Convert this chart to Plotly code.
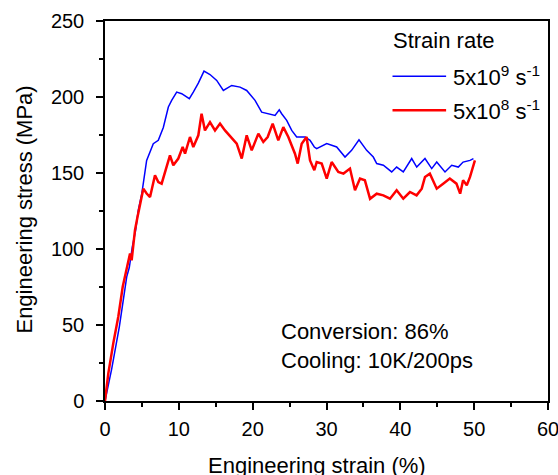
import plotly.graph_objects as go

# Engineering stress-strain curves at two strain rates
strain_fast = [0, 0.9, 1.94, 2.71, 2.94, 3.29, 3.70, 4.15, 4.51, 4.97, 5.3, 5.64, 6.54, 7.22,
               7.9, 8.58, 9.03, 9.71, 10.39, 11.42, 11.96, 12.64, 13.41, 14.22, 15.13, 16.03,
               17.16, 18.29, 19.19, 20.32, 21.22, 22.12, 23.03, 23.6, 23.93, 24.61, 25.29, 25.96,
               27.09, 27.77, 28.35, 28.67, 30.03, 31.38, 32.51, 33.4, 34.4, 35.44, 36.34, 36.8,
               37.7, 38.83, 39.5, 40.4, 41.54, 42.22, 43.34, 44.25, 44.93, 46.05, 46.96, 47.85,
               48.5, 49.44, 49.9]
stress_fast = [0, 21, 48.8, 75.1, 81.7, 87.8, 101.4, 112.4, 125.5, 136, 148, 158.3, 169.3, 171.5,
               180, 193.4, 197.8, 203.2, 202.2, 198.9, 203.2, 209.1, 217.0, 214.8, 210.9, 204.3,
               207.6, 206.5, 204.3, 197.8, 190, 189, 187.9, 191.6, 189, 184.6, 178, 173.7,
               173.7, 171.5, 167.1, 166.0, 169.3, 167.1, 160.5, 164.9, 171.9, 164.9, 160.5, 156.2,
               155.1, 150.7, 153.9, 150.7, 159.5, 153.9, 159.5, 152.9, 157.2, 150.7, 155.1, 153.9,
               157.2, 158.3, 159.5]

strain_slow = [0, 0.45, 1.12, 1.8, 2.4, 2.94, 3.39, 3.61, 4.06, 4.4, 4.74, 5.19, 5.64, 6.1,
               6.77, 7.22, 7.67, 8.13, 8.8, 9.25, 9.93, 10.52, 10.84, 11.51, 11.96, 12.64, 13.08,
               13.54, 14.22, 14.9, 15.58, 16.25, 16.84, 17.16, 17.84, 18.52, 19.19, 19.87, 20.77,
               21.44, 22.03, 22.71, 23.47, 24.15, 24.83, 25.73, 26.1, 26.64, 27.3, 27.77, 28.35,
               28.67, 29.35, 30.03, 30.7, 31.6, 32.3, 33.18, 33.86, 34.54, 35.2, 35.9, 36.8, 37.7,
               38.6, 39.5, 40.4, 41.3, 42.2, 42.9, 43.34, 44.0, 44.93, 45.8, 46.7, 47.6, 48.1,
               48.5, 49.0, 49.44, 49.9, 50.1]
stress_slow = [0, 18.2, 37.9, 55.4, 75.1, 86.1, 97, 92.6, 112.4, 121, 130, 139.7, 136.5, 134.2,
               148.5, 144, 143, 150.7, 161.6, 155.1, 159.5, 167.1, 162.7, 173.7, 167.1, 174.8, 189,
               178, 183.5, 178, 182.5, 178, 174.8, 173.7, 169.3, 159.5, 174.8, 164.9, 175.9,
               170.4, 173.7, 182.5, 171.5, 180.2, 173.7, 162.7, 156.2, 169.3, 173.7, 158.3, 151.8,
               157.2, 156.2, 146.3, 157.2, 150.7, 149.6, 152.9, 138.6, 146.3, 145.2, 133, 136.4, 135.3,
               133.1, 138.6, 133.1, 137.5, 135.3, 139.7, 147.4, 149.6, 139.7, 143, 146.3, 143, 136.4,
               145.2, 141.9, 147.4, 156.2, 158.3]

series_names = ["5x10<sup>9</sup> s<sup>-1</sup>", "5x10<sup>8</sup> s<sup>-1</sup>"]
series_colors = ["#0000ff", "#ff0000"]
series_widths = [1.5, 2.5]
legend_title = "Strain rate"
x_title = "Engineering strain (%)"
y_title = "Engineering stress (MPa)"
note_text = "Conversion: 86%<br>Cooling: 10K/200ps"

FONT = "Arial, Liberation Sans, sans-serif"
TEXT_FONT = dict(family=FONT, size=22, color="black")

fig = go.Figure()
for xs, ys, name, color, w in zip([strain_fast, strain_slow], [stress_fast, stress_slow],
                                  series_names, series_colors, series_widths):
    fig.add_trace(go.Scatter(x=xs, y=ys, mode="lines", name=name, showlegend=False,
                             line=dict(color=color, width=w)))

axis_common = dict(
    showline=True, linecolor="black", linewidth=1.5, mirror=True,
    ticks="outside", ticklen=7, tickwidth=1.5, tickcolor="black",
    showgrid=False, zeroline=False, automargin=False, ticklabeloverflow="allow",
    tickfont=dict(family=FONT, size=20, color="black"),
)

fig.update_xaxes(range=[0, 60], dtick=10, tick0=0, ticklabelstandoff=2,
                 minor=dict(dtick=5, ticks="outside", ticklen=4, tickwidth=1.5, tickcolor="black"),
                 **axis_common)
fig.update_yaxes(range=[0, 250], dtick=50, tick0=0, ticklabelstandoff=8,
                 minor=dict(dtick=25, ticks="outside", ticklen=4, tickwidth=1.5, tickcolor="black"),
                 **axis_common)

# Axis titles placed as paper annotations (the strain title sits on the bottom edge)
fig.add_annotation(x=0.4795, y=-0.131, xref="paper", yref="paper", text=x_title,
                   showarrow=False, xanchor="center", yanchor="top", font=TEXT_FONT)
fig.add_annotation(x=-0.1813, y=0.503, xref="paper", yref="paper", text=y_title,
                   showarrow=False, xanchor="center", yanchor="middle", textangle=-90,
                   font=TEXT_FONT)

# Legend drawn by hand so the sample lines can be longer than the default
leg_x0, leg_x1, text_x = 0.649, 0.770, 0.780
leg_rows = [0.8546, 0.7652]
fig.add_annotation(x=0.646, y=0.948, xref="paper", yref="paper", text=legend_title,
                   showarrow=False, xanchor="left", yanchor="middle", font=TEXT_FONT)
for yy, name, color, w in zip(leg_rows, series_names, series_colors, series_widths):
    fig.add_shape(type="line", xref="paper", yref="paper", x0=leg_x0, x1=leg_x1, y0=yy, y1=yy,
                  line=dict(color=color, width=w))
    fig.add_annotation(x=text_x, y=yy, xref="paper", yref="paper", text=name,
                       showarrow=False, xanchor="left", yanchor="middle", font=TEXT_FONT)

fig.add_annotation(x=23.6, y=36.5, xref="x", yref="y", text=note_text, showarrow=False,
                   xanchor="left", yanchor="middle", align="left", font=TEXT_FONT)

fig.update_layout(
    width=558, height=475,
    margin=dict(l=105, r=10, t=21, b=74),
    paper_bgcolor="white", plot_bgcolor="white",
    showlegend=False,
)

fig.write_html("out.html")
